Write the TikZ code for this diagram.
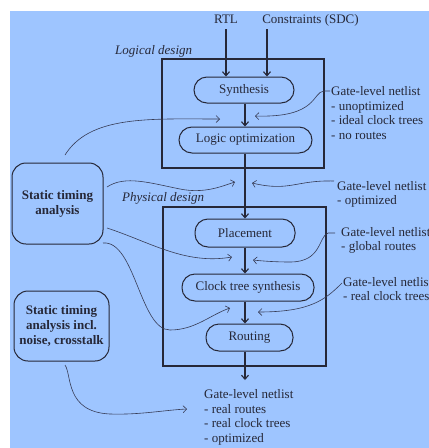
\documentclass[tikz,border=0pt]{standalone}
\usepackage{fontspec}
\setmainfont{Liberation Serif}
\usetikzlibrary{arrows.meta}
\definecolor{bg}{RGB}{158,197,255}
\definecolor{ink}{RGB}{38,40,56}
\definecolor{thin}{RGB}{55,60,85}
\begin{document}
\begin{tikzpicture}[x=1pt,y=-1pt,
  every node/.style={text=ink, font=\fontsize{13}{14.8}\selectfont},
  stage/.style={draw=ink, line width=1pt, rounded corners=13pt, minimum height=26pt, inner sep=0pt},
  phase/.style={draw=ink, line width=1.2pt},
  flow/.style={draw=ink, line width=1.1pt, -{Straight Barb[length=4pt,width=7pt]}},
  note/.style={draw=thin, line width=0.6pt},
  notearrow/.style={note, -{Straight Barb[length=3.5pt,width=7pt]}},
  txt/.style={inner sep=0pt, align=left, anchor=base west},
  sta/.style={draw=ink, line width=1pt, rounded corners=14pt, font=\fontsize{13}{14.8}\selectfont\bfseries, align=center, inner sep=0pt}
]
\useasboundingbox (0,0) rectangle (429,448);
\fill[bg] (10,11) rectangle (429,448);

% phase boxes
\draw[phase] (162,59) rectangle (324,168);
\draw[phase] (163,207) rectangle (326,366);

% labels of phases
\node[txt, font=\fontsize{13}{14.8}\selectfont\itshape] (logical) at (115,54) {Logical design};
\node[txt, font=\fontsize{13}{14.8}\selectfont\itshape] (physical) at (122,201) {Physical design};

% stages
\coordinate (spine) at (245,0);
\node[stage, minimum width=100pt] (synth) at (244,90) {Synthesis};
\node[stage, minimum width=133pt] (logopt) at (245.5,140) {Logic optimization};
\node[stage, minimum width=100pt, minimum height=28pt] (place) at (245,233) {Placement};
\node[stage, minimum width=132pt, minimum height=27pt] (cts) at (248,287.5) {Clock tree synthesis};
\node[stage, minimum width=87pt, minimum height=27pt] (route) at (249.5,337.5) {Routing};

% inputs
\node[inner sep=0pt, anchor=base] (rtl) at (226,23) {RTL};
\node[inner sep=0pt, anchor=base] (cons) at (310.5,23) {Constraints (SDC)};
\coordinate (consfoot) at (267,29);
\draw[flow] ([yshift=-6pt]rtl.south) -- (rtl.south |- synth.north);
\draw[flow] (consfoot) -- (consfoot |- synth.north);

% main flow
\draw[flow] (synth.south -| spine) -- (logopt.north -| spine);
\draw[flow] (logopt.south -| spine) -- (place.north -| spine);
\draw[flow] (place.south -| spine) -- (cts.north -| spine);
\draw[flow] (cts.south -| spine) -- (route.north -| spine);
\coordinate (outarrow) at (245,380);
\draw[flow] (route.south -| spine) -- (outarrow);

% netlist notes (anchor = baseline of the last line)
\node[txt] (n1) at (331,139.6) {Gate-level netlist\\- unoptimized\\- ideal clock trees\\- no routes};
\node[txt] (n2) at (337,204.8) {Gate-level netlist\\- optimized};
\node[txt] (n3) at (341,250.8) {Gate-level netlist\\ - global routes};
\node[txt] (n4) at (343,300.8) {Gate-level netlist\\ - real clock trees};
\node[txt, font=\fontsize{13}{14.5}\selectfont] (nout) at (204,442) {Gate-level netlist\\- real routes\\- real clock trees\\- optimized};

% STA boxes
\node[sta, minimum width=91pt, minimum height=81pt] (sta1) at (57.5,203.5) {Static timing\\analysis};
\node[sta, minimum width=95pt, minimum height=70pt] (sta2) at (61.5,326) {Static timing\\analysis incl.\\noise, crosstalk};

% note connectors (right side)
\coordinate (r1s) at (330,91);
\coordinate (r1e) at (255,116);
\draw[notearrow] (r1s) -- (324,91) .. controls (312,92) and (318,118) .. (r1e);
\coordinate (r2s) at (334,181);
\coordinate (r2e) at (252,183);
\draw[notearrow] (r2s) .. controls (295,180) and (290,192) .. (r2e);
\coordinate (r3s) at (335,233);
\coordinate (r3e) at (253,260);
\draw[notearrow] (r3s) -- (328,233) .. controls (318,237) and (322,262) .. (290,262) .. controls (275,262) and (262,261) .. (r3e);
\coordinate (r4s) at (342,283);
\coordinate (r4e) at (258,312);
\draw[notearrow] (r4s) .. controls (325,300) and (310,312) .. (r4e);

% STA connectors (left side)
\coordinate (c1s) at (65,155);
\coordinate (c1e) at (220,119);
\draw[notearrow] (c1s) .. controls (90,115) and (150,119) .. (c1e);
\coordinate (c2s) at (107,187);
\coordinate (c2e) at (235,182);
\draw[notearrow] (c2s) .. controls (125,175) and (150,183) .. (180,189) .. controls (205,194) and (222,186) .. (c2e);
\coordinate (c3s) at (107,228);
\coordinate (c3e) at (232,257);
\draw[notearrow] (c3s) .. controls (150,242) and (185,265) .. (c3e);
\coordinate (c4s) at (103,243);
\coordinate (c4e) at (230,308);
\draw[notearrow] (c4s) .. controls (135,240) and (140,330) .. (170,330) .. controls (195,330) and (210,315) .. (c4e);
\coordinate (c5s) at (65,365);
\coordinate (c5e) at (187,409);
\draw[notearrow] (c5s) .. controls (72,375) and (65,412) .. (110,414) .. controls (140,415) and (165,410) .. (c5e);
\end{tikzpicture}
\end{document}
